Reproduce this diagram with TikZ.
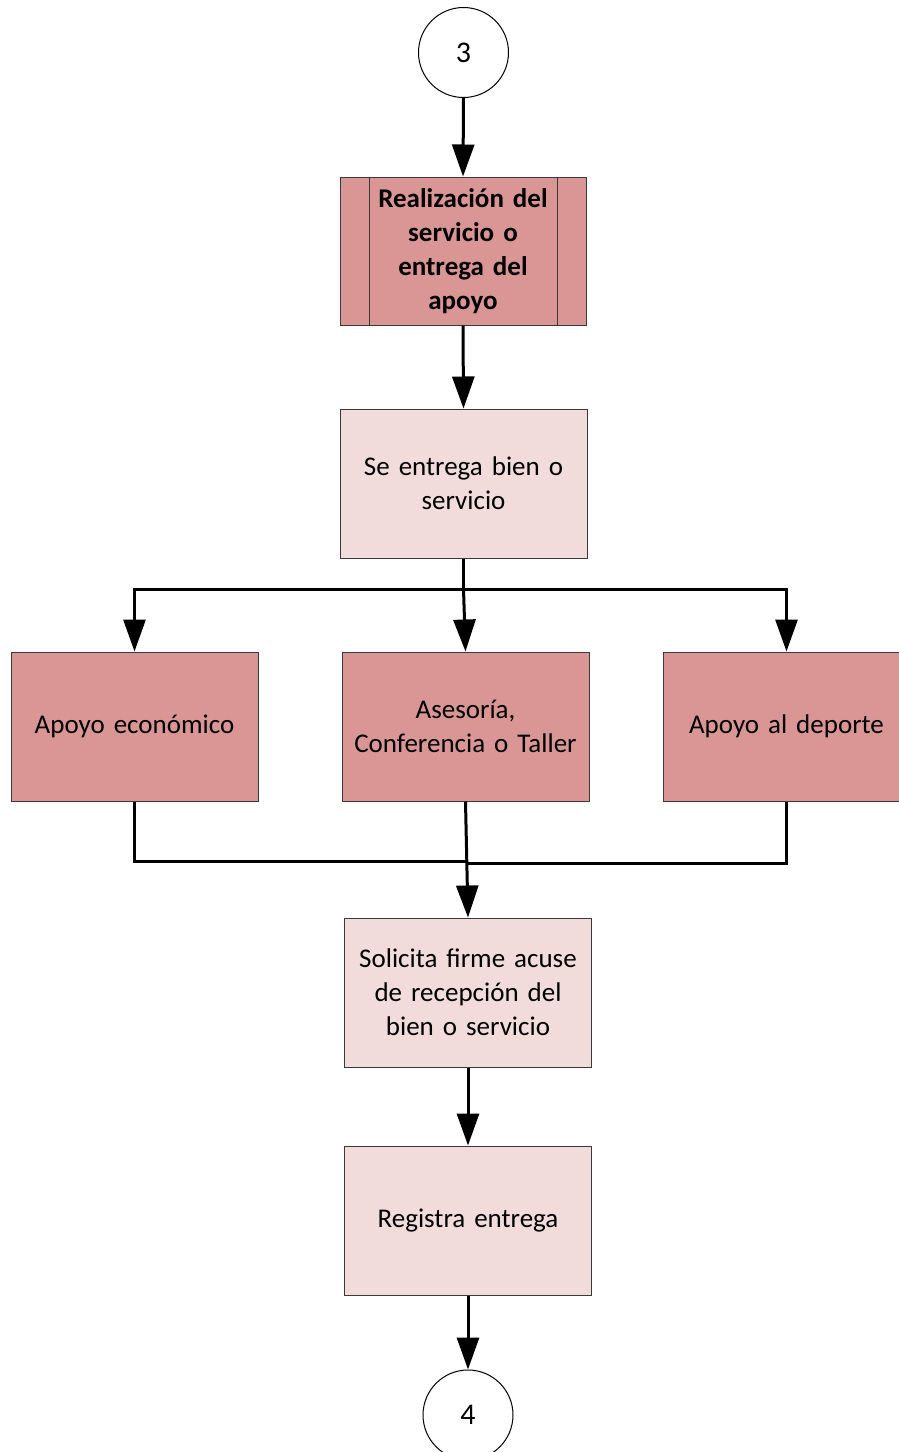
\documentclass[tikz,border=0pt]{standalone}
\usepackage{fontspec}
\setmainfont{Carlito}
\usetikzlibrary{arrows.meta}
\definecolor{darkrose}{HTML}{D99694}
\definecolor{lightrose}{HTML}{F2DCDB}
\definecolor{edge}{HTML}{3A3A3A}
\tikzset{
  boxbase/.style={draw=edge, line width=1pt, minimum width=247pt, minimum height=149pt,
    text width=240pt, align=center, font=\fontsize{27}{34}\selectfont, inner sep=0pt},
  darkbox/.style={boxbase, fill=darkrose},
  lightbox/.style={boxbase, fill=lightrose},
  connector/.style={circle, draw=black, line width=1pt, fill=white, minimum size=90pt,
    inner sep=0pt, font=\fontsize{30}{34}\selectfont},
  flow/.style={line width=3pt, draw=black, -{Triangle[length=32pt,width=22pt]}},
  line/.style={line width=3pt, draw=black}
}
\begin{document}
\begin{tikzpicture}[x=1pt,y=-1pt]
\useasboundingbox (0,0) rectangle (899,1452);
\clip (0,0) rectangle (899,1452);
\fill[white] (0,0) rectangle (899,1452);

\node[connector] (c3) at (463.5,52.5) {3};
\node[darkbox, minimum width=246pt, minimum height=148pt, text width=200pt, font=\bfseries\fontsize{27}{34}\selectfont] (sp) at (463,251) {Realización del\\servicio o\\entrega del\\apoyo};
\draw[edge, line width=1pt] ([xshift=30pt]sp.north west) -- ([xshift=30pt]sp.south west);
\draw[edge, line width=1pt] ([xshift=-29pt]sp.north east) -- ([xshift=-29pt]sp.south east);

\node[lightbox] (b2) at (463.5,483.5) {Se entrega bien o\\servicio};

\node[darkbox] (m1) at (134.5,726.5) {Apoyo económico};
\node[darkbox] (m2) at (465.5,726.5) {Asesoría,\\Conferencia o Taller};
\node[darkbox] (m3) at (786.5,726.5) {Apoyo al deporte};

\node[lightbox] (b4) at (468,992.5) {Solicita firme acuse\\de recepción del\\bien o servicio};
\node[lightbox] (b5) at (468,1220.5) {Registra entrega};
\node[connector] (c4) at (468,1415) {4};

\draw[flow] (c3.south) -- (sp.north);
\draw[flow] (sp.south) -- (b2.north);

\coordinate (split) at (463.5,589);
\draw[line] (b2.south) -- (split);
\draw[flow] (split) -| (m1.north);
\draw[flow] (split) -| (m3.north);
\draw[flow] (split) -- (m2.north);

\coordinate (joinL) at (467,861);
\coordinate (joinR) at (467,863);
\draw[line] (m1.south) |- (joinL);
\draw[line] (m3.south) |- (joinR);
\draw[flow] (m2.south) -- (b4.north);

\draw[flow] (b4.south) -- (b5.north);
\draw[flow] (b5.south) -- (c4.north);
\end{tikzpicture}
\end{document}
